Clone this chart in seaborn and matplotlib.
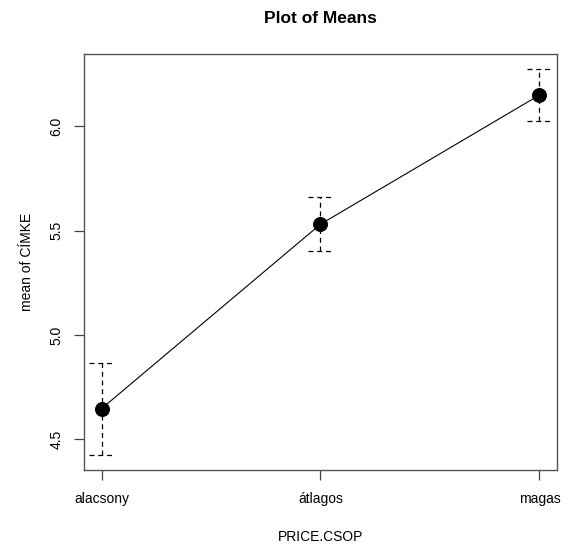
import matplotlib
matplotlib.use("Agg")
import matplotlib.pyplot as plt
import seaborn as sns
import pandas as pd
import numpy as np

# Group means of CÍMKE by PRICE.CSOP with their confidence half-widths
categories = ["alacsony", "átlagos", "magas"]
means = [4.647, 5.531, 6.150]
half_widths = [0.220, 0.129, 0.123]
y_ticks = [4.5, 5.0, 5.5, 6.0]

df = pd.DataFrame({"PRICE.CSOP": categories, "mean": means, "err": half_widths})
df["x"] = np.arange(len(categories)) + 1

sns.set_style("white")
plt.rcParams["font.family"] = ["Liberation Sans", "DejaVu Sans"]
plt.rcParams["text.color"] = "black"
plt.rcParams["axes.labelcolor"] = "black"
plt.rcParams["xtick.color"] = "black"
plt.rcParams["ytick.color"] = "black"

fig = plt.figure(figsize=(5.69, 5.47), dpi=100)
ax_rect = [0.1476, 0.1408, 0.8313, 0.7605]
ax = fig.add_axes(ax_rect)

# mean line and points
sns.lineplot(data=df, x="x", y="mean", ax=ax, color="black", lw=0.8,
             marker="o", markersize=10, markeredgecolor="black",
             markerfacecolor="black", zorder=3)

# dashed interval bars with dashed caps
lo = df["mean"] - df["err"]
hi = df["mean"] + df["err"]
cap = 0.055
ax.vlines(df["x"], lo, hi, colors="black", linestyles=(0, (4, 3)), lw=0.9, zorder=2)
ax.hlines(lo, df["x"] - cap, df["x"] + cap, colors="black", linestyles=(0, (4, 3)), lw=0.9)
ax.hlines(hi, df["x"] - cap, df["x"] + cap, colors="black", linestyles=(0, (4, 3)), lw=0.9)

# R-style axis extents (4% padding)
ymin, ymax = lo.min(), hi.max()
pad = 0.04 * (ymax - ymin)
ax.set_ylim(ymin - pad, ymax + pad)
ax.set_xlim(1 - 0.08, 3 + 0.08)

ax.set_xticks(df["x"])
ax.set_xticklabels(categories, fontsize=10)
ax.set_yticks(y_ticks)
ax.set_yticklabels([f"{v:.1f}" for v in y_ticks], fontsize=10, rotation=90, va="center")
ax.tick_params(axis="both", direction="out", length=7, width=0.9,
               bottom=True, left=True)
ax.tick_params(axis="x", pad=9, color="#444444")
ax.tick_params(axis="y", pad=8, color="#444444")

for s in ax.spines.values():
    s.set_color("#555555")
    s.set_linewidth(1.0)

ax.set_xlabel("PRICE.CSOP", fontsize=10, labelpad=17)
ax.set_ylabel("mean of CÍMKE", fontsize=10, labelpad=11)

# title centred over the plotting region
fig.text(ax_rect[0] + ax_rect[2] / 2, 0.958, "Plot of Means", fontsize=12.5,
         fontweight="bold", ha="center", va="baseline")

fig.savefig("out.png", dpi=100)
